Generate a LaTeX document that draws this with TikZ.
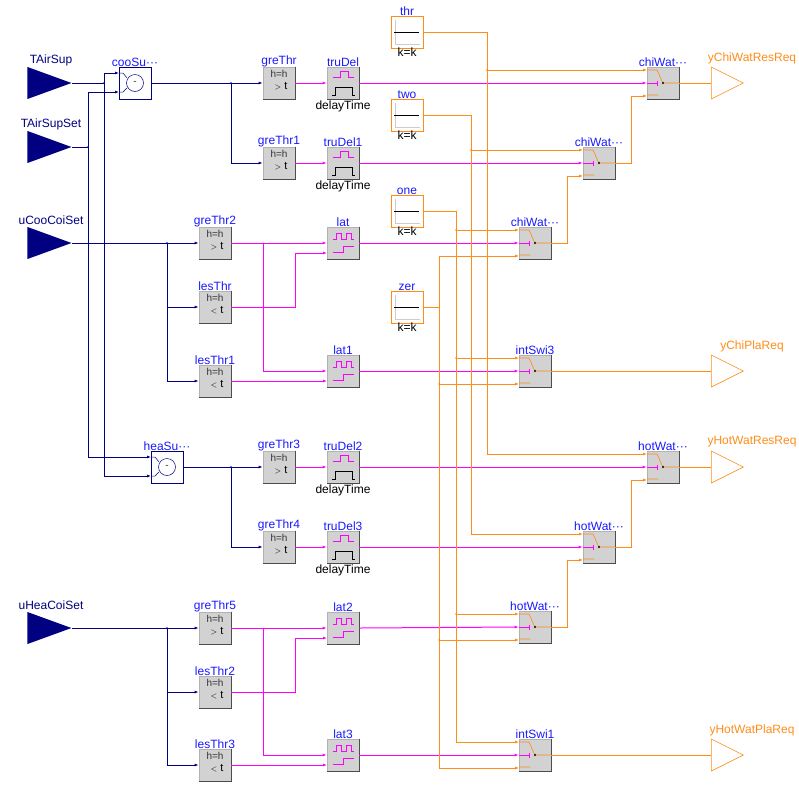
\documentclass[tikz,border=0pt]{standalone}
\usepackage{fontspec}
\setmainfont{Liberation Sans}
\usetikzlibrary{arrows.meta,shapes.geometric,calc}

\definecolor{navy}{rgb}{0,0,0.5}
\definecolor{ora}{rgb}{1,0.55,0.1}
\definecolor{mag}{rgb}{1,0,1}
\definecolor{nblue}{rgb}{0.1,0.1,1}

\tikzset{
  lbl/.style={font=\fontsize{12}{13}\selectfont,text=nblue,inner sep=0.5pt},
  dly/.style={font=\fontsize{12}{13}\selectfont,text=black,inner sep=0.5pt},
  sml/.style={font=\fontsize{10}{11}\selectfont,text=black!80,inner sep=0pt},
  blk/.style={draw=gray!60,fill=gray!35,minimum size=32pt,inner sep=0pt,line width=0.8pt},
  con/.style={draw=ora,fill=white,minimum size=32pt,inner sep=0pt,line width=0.8pt},
  sub/.style={draw=navy,fill=white,minimum size=32pt,inner sep=0pt,line width=0.6pt},
  inp/.style={isosceles triangle,isosceles triangle stretches,fill=navy,
    minimum width=32pt,minimum height=44pt,inner sep=0pt,anchor=apex},
  outp/.style={isosceles triangle,isosceles triangle stretches,draw=ora,fill=white,
    minimum width=32pt,minimum height=32pt,inner sep=0pt,anchor=west,line width=0.6pt},
  real/.style={draw=navy,line width=0.9pt,-{Latex[length=4pt,width=3pt]}},
  bool/.style={draw=mag,line width=1pt,-{Latex[length=4pt,width=3pt]}},
  int/.style={draw=ora,line width=0.9pt,-{Latex[length=4pt,width=3pt]}},
  dot/.style={circle,fill,inner sep=0.9pt}
}

\begin{document}
\begin{tikzpicture}[x=1pt,y=-1pt]
\useasboundingbox (0,0) rectangle (799,788);

% inputs
\foreach \n/\y in {TAirSup/83,TAirSupSet/147,uCooCoiSet/243,uHeaCoiSet/628}{
  \node[inp] (\n) at (72,\y) {};
  \node[lbl,text=navy] at (51,\y-23) {\n};
}

% outputs
\foreach \n/\y in {yChiWatResReq/83,yChiPlaReq/371,yHotWatResReq/467,yHotWatPlaReq/755}{
  \node[outp] (\n) at (711,\y) {};
  \node[lbl,text=ora] at (752,\y-25) {\n};
}

% subtraction
\foreach \n/\t/\x/\y in {cooSub/cooSu/135/83,heaSub/heaSu/167/467}{
  \node[sub,label={[lbl,label distance=-1pt]above:\t···}] (\n) at (\x,\y) {};
  \draw[navy,line width=0.5pt] (\x,\y) circle (8.5) node[sml] {-};
  \draw[navy,line width=0.5pt] (\x-16,\y-10) -- (\x-12,\y-10) -- (\x-8,\y-5)
    (\x-16,\y+9) -- (\x-12,\y+9) -- (\x-8,\y+5);
  \coordinate (\n-1) at (\x-16,\y-10);
  \coordinate (\n-2) at (\x-16,\y+9);
}

% comparators
\foreach \n/\x/\y/\s in {greThr/279/83/>,greThr1/279/163/>,greThr2/215/243/>,
    lesThr/215/307/<,lesThr1/215/381/<,greThr3/279/467/>,greThr4/279/547/>,
    greThr5/215/628/>,lesThr2/215/692/<,lesThr3/215/765/<}{
  \node[blk,label={[lbl,label distance=-1pt]above:\n}] (\n) at (\x,\y) {};
  \draw[black!70,line width=1pt] (\n.north east) -- (\n.south east) -- (\n.south west);
  \node[sml] at (\x,\y-9) {h=h};
  \node[sml,text=black,font=\fontsize{11}{12}\selectfont] at (\x+2,\y+3) {$\scriptstyle\s$ t};
}

% true delays
\foreach \n/\y in {truDel/83,truDel1/163,truDel2/467,truDel3/547}{
  \node[blk,label={[lbl,label distance=-1pt]above:\n},
    label={[dly,label distance=1pt]below:delayTime}] (\n) at (343,\y) {};
  \draw[black!70,line width=1pt] (\n.north east) -- (\n.south east) -- (\n.south west);
  \draw[mag,line width=0.7pt] (333,\y-6) -- (340,\y-6) -- (340,\y-12) -- (348,\y-12)
    -- (348,\y-6) -- (354,\y-6);
  \draw[black,line width=0.7pt] (332,\y+12) -- (335,\y+12) -- (335,\y+4) -- (352,\y+4)
    -- (352,\y+12) -- (355,\y+12);
}

% latches
\foreach \n/\y in {lat/243,lat1/371,lat2/628,lat3/755}{
  \node[blk,label={[lbl,label distance=-1pt]above:\n}] (\n) at (343,\y) {};
  \draw[black!70,line width=1pt] (\n.north east) -- (\n.south east) -- (\n.south west);
  \draw[mag,line width=0.7pt] (333,\y-4) -- (336,\y-4) -- (336,\y-10) -- (341,\y-10)
    -- (341,\y-4) -- (346,\y-4) -- (346,\y-10) -- (351,\y-10) -- (351,\y-4) -- (354,\y-4)
    (333,\y+9) -- (343,\y+9) -- (343,\y+3) -- (354,\y+3);
  \coordinate (\n-c) at (327,\y+10);
}

% constants
\foreach \n/\y in {thr/32,two/115,one/211,zer/307}{
  \node[con,label={[lbl,label distance=-1pt]above:\n},
    label={[dly,label distance=-1pt]below:k=k}] (\n) at (407,\y) {};
  \draw[gray!40,line width=0.5pt] (395,\y-12) -- (395,\y+12) -- (420,\y+12);
  \draw[black,line width=0.7pt] (394,\y) -- (419,\y);
}

% switches
\foreach \n/\t/\x/\y in {chiWatRes/chiWat···/663/83,chiWat2/chiWat···/599/163,
    chiWat3/chiWat···/535/243,intSwi3/intSwi3/535/371,hotWatRes/hotWat···/663/467,
    hotWat2/hotWat···/599/547,hotWat3/hotWat···/535/627,intSwi1/intSwi1/535/755}{
  \node[blk,label={[lbl,label distance=-1pt]above:\t}] (\n) at (\x,\y) {};
  \draw[black!70,line width=1pt] (\n.north east) -- (\n.south east) -- (\n.south west);
  \draw[ora,line width=0.6pt] (\x-16,\y-13) -- (\x-6,\y-13) -- (\x-2,\y-4) -- (\x,\y)
    -- (\x+16,\y) (\x-16,\y+12) -- (\x-5,\y+12);
  \draw[mag,line width=0.8pt] (\x-16,\y) -- (\x-6,\y) (\x-6,\y-2.5) -- (\x-6,\y+2.5);
  \fill (\x,\y) circle (1.1);
  \coordinate (\n-1) at (\x-16,\y-13);
  \coordinate (\n-3) at (\x-16,\y+13);
}

% column positions
\coordinate (jA) at (104,83);
\coordinate (jB) at (88,147);
\coordinate (jC) at (231,83);
\coordinate (jD) at (231,467);
\coordinate (jE) at (167,243);
\coordinate (jF) at (167,628);
\coordinate (jG) at (263,243);
\coordinate (jH) at (263,628);
\coordinate (cL) at (295,0);
\coordinate (cThr) at (487,0);
\coordinate (cTwo) at (471,0);
\coordinate (cOne) at (456,0);
\coordinate (cZer) at (439,0);

% real signals
\draw[navy,line width=0.9pt] (TAirSup.apex) -- (jA);
\draw[real] (jA) |- (cooSub-1);
\draw[real] (jA) |- (heaSub-2);
\draw[navy,line width=0.9pt] (TAirSupSet.apex) -- (jB);
\draw[real] (jB) |- (cooSub-2);
\draw[real] (jB) |- (heaSub-1);
\draw[real] (cooSub.east) -- (greThr.west);
\draw[real] (jC) |- (greThr1.west);
\draw[real] (heaSub.east) -- (greThr3.west);
\draw[real] (jD) |- (greThr4.west);
\draw[real] (uCooCoiSet.apex) -- (greThr2.west);
\draw[real] (jE) |- (lesThr.west);
\draw[real] (jE) |- (lesThr1.west);
\draw[real] (uHeaCoiSet.apex) -- (greThr5.west);
\draw[real] (jF) |- (lesThr2.west);
\draw[real] (jF) |- (lesThr3.west);
\foreach \j in {jA,jB,jC,jD,jE,jF}
  \node[dot,navy,inner sep=0.7pt] at (\j) {};

% boolean signals
\foreach \a/\b in {greThr/truDel,greThr1/truDel1,greThr3/truDel2,greThr4/truDel3,
    greThr2/lat,greThr5/lat2}
  \draw[bool] (\a.east) -- (\b.west);
\draw[bool] (jG) |- (lat1.west);
\draw[bool] (jH) |- (lat3.west);
\draw[bool] (lesThr.east) -| (cL |- lat-c) -- (lat-c);
\draw[bool] (lesThr1.east) -- (lat1-c);
\draw[bool] (lesThr2.east) -| (cL |- lat2-c) -- (lat2-c);
\draw[bool] (lesThr3.east) -- (lat3-c);
\foreach \a/\b in {truDel/chiWatRes,truDel1/chiWat2,lat/chiWat3,lat1/intSwi3,
    truDel2/hotWatRes,truDel3/hotWat2,lat2/hotWat3,lat3/intSwi1}
  \draw[bool] (\a.east) -- (\b.west);

% integer signals
\draw[int] (thr.east) -| (cThr |- hotWatRes-1) -- (hotWatRes-1);
\draw[int] (cThr |- chiWatRes-1) -- (chiWatRes-1);
\draw[int] (two.east) -| (cTwo |- hotWat2-1) -- (hotWat2-1);
\draw[int] (cTwo |- chiWat2-1) -- (chiWat2-1);
\draw[int] (one.east) -| (cOne |- intSwi1-1) -- (intSwi1-1);
\foreach \s in {chiWat3,intSwi3,hotWat3}{
  \draw[int] (cOne |- \s-1) -- (\s-1);
  \node[dot,ora,inner sep=0.7pt] at (cOne |- \s-1) {};
}
\draw[ora,line width=0.9pt] (zer.east) -- (cZer |- zer.east)
  (cZer |- chiWat3-3) -- (cZer |- intSwi1-3);
\foreach \s in {chiWat3,intSwi3,hotWat3,intSwi1}
  \draw[int] (cZer |- \s-3) -- (\s-3);
\foreach \s in {intSwi3,hotWat3}
  \node[dot,ora,inner sep=0.7pt] at (cZer |- \s-3) {};
\node[dot,ora,inner sep=0.7pt] at (cThr |- chiWatRes-1) {};
\node[dot,ora,inner sep=0.7pt] at (cTwo |- chiWat2-1) {};

\draw[int] (chiWat3.east) -- ++(16,0) |- (chiWat2-3);
\draw[int] (chiWat2.east) -- ++(16,0) |- (chiWatRes-3);
\draw[int] (hotWat3.east) -- ++(16,0) |- (hotWat2-3);
\draw[int] (hotWat2.east) -- ++(16,0) |- (hotWatRes-3);
\draw[ora,line width=0.9pt] (chiWatRes.east) -- (yChiWatResReq.west);
\draw[ora,line width=0.9pt] (intSwi3.east) -- (yChiPlaReq.west);
\draw[ora,line width=0.9pt] (hotWatRes.east) -- (yHotWatResReq.west);
\draw[ora,line width=0.9pt] (intSwi1.east) -- (yHotWatPlaReq.west);

\end{tikzpicture}
\end{document}
